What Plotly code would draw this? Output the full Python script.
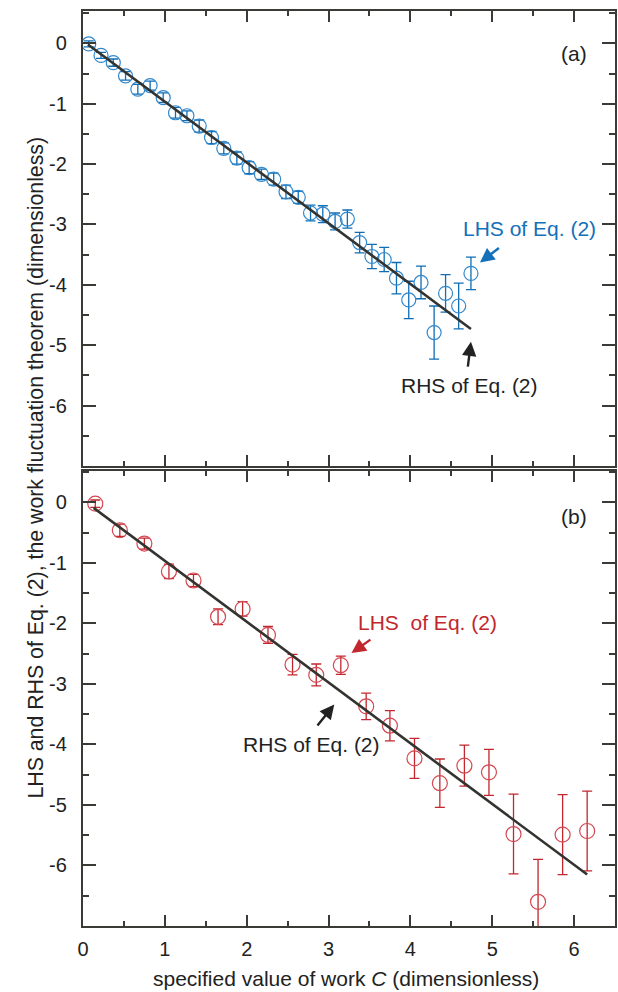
import plotly.graph_objects as go

FONT = 'Liberation Sans, Arial, sans-serif'
AXIS_COLOR = '#3a3a36'

# panel (a): LHS of Eq. (2), blue points
c_a = [0.07, 0.22, 0.37, 0.52, 0.67, 0.82, 0.98, 1.13, 1.27, 1.42, 1.57, 1.72, 1.88, 2.03, 2.18, 2.33,
       2.48, 2.63, 2.78, 2.93, 3.08, 3.23, 3.38, 3.53, 3.68, 3.83, 3.98, 4.13, 4.29, 4.43, 4.59, 4.74]
lhs_a = [-0.01, -0.20, -0.32, -0.54, -0.76, -0.70, -0.90, -1.15, -1.20, -1.37, -1.56, -1.74, -1.90, -2.06,
         -2.17, -2.25, -2.46, -2.55, -2.81, -2.83, -2.95, -2.91, -3.30, -3.53, -3.58, -3.89, -4.25, -3.96,
         -4.79, -4.14, -4.35, -3.81]
err_a = [0.05, 0.05, 0.06, 0.07, 0.08, 0.075, 0.08, 0.09, 0.08, 0.10, 0.10, 0.09, 0.10, 0.10, 0.085, 0.10,
         0.11, 0.10, 0.13, 0.14, 0.14, 0.15, 0.17, 0.20, 0.20, 0.26, 0.31, 0.27, 0.44, 0.31, 0.38, 0.27]
rhs_a_x = [0.06, 4.74]
rhs_a_y = [-0.02, -4.73]

# panel (b): LHS of Eq. (2), red points
c_b = [0.15, 0.45, 0.75, 1.05, 1.35, 1.65, 1.95, 2.26, 2.56, 2.85, 3.15, 3.46, 3.75, 4.05, 4.36, 4.66,
       4.96, 5.26, 5.56, 5.86, 6.16]
lhs_b = [-0.02, -0.46, -0.68, -1.14, -1.29, -1.89, -1.76, -2.19, -2.68, -2.85, -2.69, -3.37, -3.69, -4.23,
         -4.64, -4.35, -4.46, -5.48, -6.60, -5.49, -5.43]
err_b = [0.06, 0.10, 0.09, 0.12, 0.10, 0.13, 0.12, 0.14, 0.17, 0.18, 0.15, 0.22, 0.25, 0.33, 0.40, 0.34,
         0.38, 0.66, 0.70, 0.66, 0.66]
rhs_b_x = [0.13, 6.16]
rhs_b_y = [-0.09, -6.15]

x_ticks = [0, 1, 2, 3, 4, 5, 6]
y_ticks = [0, -1, -2, -3, -4, -5, -6]
y_ticktext = ['0', '-1', '-2', '-3', '-4', '-5', '-6']

BLUE_MARK = '#3288cc'
BLUE_ERR = '#0e6db5'
RED_MARK = '#d34852'
RED_ERR = '#c1272d'

fig = go.Figure()

fig.add_trace(go.Scatter(
    x=c_a, y=lhs_a, mode='markers', xaxis='x', yaxis='y',
    marker=dict(symbol='circle-open', size=14, color=BLUE_MARK, line=dict(width=1.2)),
    error_y=dict(type='data', array=err_a, color=BLUE_ERR, thickness=1.3, width=5),
))
fig.add_trace(go.Scatter(
    x=rhs_a_x, y=rhs_a_y, mode='lines', xaxis='x', yaxis='y',
    line=dict(color='#333330', width=2.6),
))
fig.add_trace(go.Scatter(
    x=c_b, y=lhs_b, mode='markers', xaxis='x2', yaxis='y2',
    marker=dict(symbol='circle-open', size=15, color=RED_MARK, line=dict(width=1.2)),
    error_y=dict(type='data', array=err_b, color=RED_ERR, thickness=1.3, width=5),
))
fig.add_trace(go.Scatter(
    x=rhs_b_x, y=rhs_b_y, mode='lines', xaxis='x2', yaxis='y2',
    line=dict(color='#333330', width=2.6),
))


def x_axis(domain_anchor, labels):
    return dict(
        range=[0, 6.5], anchor=domain_anchor, tickvals=x_ticks, showticklabels=labels,
        ticks='inside', ticklen=11, tickwidth=1.5, tickcolor=AXIS_COLOR,
        minor=dict(dtick=0.5, tick0=0, ticks='inside', ticklen=5, tickwidth=1.5, tickcolor=AXIS_COLOR),
        showline=True, linewidth=2.2, linecolor=AXIS_COLOR, mirror='ticks',
        showgrid=False, zeroline=False, ticklabelstandoff=4,
        tickfont=dict(family=FONT, size=20, color='#222222'),
    )


def y_axis(domain, anchor, top):
    return dict(
        range=[-7, top], domain=domain, anchor=anchor,
        tickvals=y_ticks, ticktext=y_ticktext,
        ticks='inside', ticklen=13, tickwidth=1.5, tickcolor=AXIS_COLOR,
        minor=dict(dtick=0.5, tick0=0, ticks='inside', ticklen=6, tickwidth=1.5, tickcolor=AXIS_COLOR),
        showline=True, linewidth=2.2, linecolor=AXIS_COLOR, mirror='ticks',
        showgrid=False, zeroline=False, ticklabelstandoff=10,
        tickfont=dict(family=FONT, size=20, color='#222222'),
    )


ann_font = dict(family=FONT, size=21, color='#222222')
annotations = [
    dict(x=6.0, y=-0.17, xref='x', yref='y', text='(a)', showarrow=False, font=ann_font),
    dict(x=6.0, y=-0.24, xref='x2', yref='y2', text='(b)', showarrow=False, font=ann_font),
    dict(x=5.45, y=-3.07, xref='x', yref='y', text='LHS of Eq. (2)', showarrow=False,
         font=dict(family=FONT, size=21, color='#1470b8')),
    dict(x=4.85, y=-3.63, ax=5.10, ay=-3.37, xref='x', yref='y', axref='x', ayref='y', text='',
         showarrow=True, arrowhead=2, arrowsize=1.2, arrowwidth=2.4, arrowcolor='#1470b8', standoff=0),
    dict(x=4.72, y=-5.66, xref='x', yref='y', text='RHS of Eq. (2)', showarrow=False, font=ann_font),
    dict(x=4.74, y=-4.94, ax=4.70, ay=-5.38, xref='x', yref='y', axref='x', ayref='y', text='',
         showarrow=True, arrowhead=2, arrowsize=1.2, arrowwidth=2.4, arrowcolor='#222222', standoff=0),
    dict(x=4.21, y=-1.99, xref='x2', yref='y2', text='LHS  of Eq. (2)', showarrow=False,
         font=dict(family=FONT, size=21, color='#c1272d')),
    dict(x=3.28, y=-2.49, ax=3.53, ay=-2.25, xref='x2', yref='y2', axref='x2', ayref='y2', text='',
         showarrow=True, arrowhead=2, arrowsize=1.2, arrowwidth=2.4, arrowcolor='#c1272d', standoff=0),
    dict(x=2.79, y=-4.0, xref='x2', yref='y2', text='RHS of Eq. (2)', showarrow=False, font=ann_font),
    dict(x=3.07, y=-3.34, ax=2.85, ay=-3.71, xref='x2', yref='y2', axref='x2', ayref='y2', text='',
         showarrow=True, arrowhead=2, arrowsize=1.2, arrowwidth=2.4, arrowcolor='#222222', standoff=0),
    # axis titles
    dict(x=0, y=0.501, xref='paper', yref='paper', xshift=-61, textangle=-90, showarrow=False,
         text='LHS and RHS of Eq. (2), the work fluctuation theorem (dimensionless)',
         font=dict(family=FONT, size=21.3, color='#222222')),
    dict(x=0.495, y=0, xref='paper', yref='paper', yshift=-52, yanchor='middle', showarrow=False,
         text='specified value of work <i>C</i> (dimensionless)', font=ann_font),
]

fig.update_layout(
    width=618, height=992,
    margin=dict(l=83, r=1, t=11, b=66),
    paper_bgcolor='white', plot_bgcolor='white',
    showlegend=False,
    xaxis=x_axis('y', False),
    yaxis=y_axis([0.5027, 1.0], 'x', 0.535),
    xaxis2=x_axis('y2', True),
    yaxis2=y_axis([0.0, 0.4973], 'x2', 0.52),
    annotations=annotations,
    font=dict(family=FONT),
)

# the page's default body margin would shift the figure by 8px
fig.write_html("out.html", config={'displayModeBar': False},
               post_script="document.body.style.margin='0';")
